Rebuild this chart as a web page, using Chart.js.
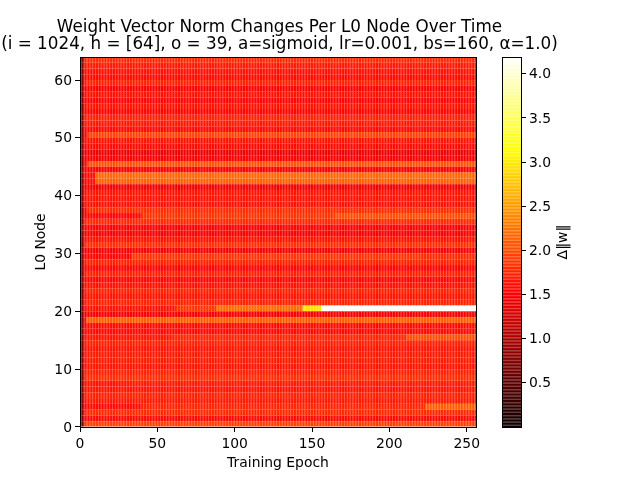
<!DOCTYPE html>
<html>
<head>
<meta charset="utf-8">
<style>
  html, body { margin: 0; padding: 0; background: #fff; }
  #wrap { position: relative; width: 640px; height: 480px; overflow: hidden; }
  canvas { position: absolute; top: 0; }
</style>
<script src="https://cdn.jsdelivr.net/npm/chart.js@4"></script>
</head>
<body>
<div id="wrap">
  <canvas id="heat" width="640" height="480" style="left:0"></canvas>
  <canvas id="bar" width="150" height="480" style="left:490px"></canvas>
</div>
<script>
const titleLines = ['Weight Vector Norm Changes Per L0 Node Over Time',
  '(i = 1024, h = [64], o = 39, a=sigmoid, lr=0.001, bs=160, α=1.0)'];
const epochCount = 256;
const vMin = 0.0;
const vMax = 4.19;

// first three epochs are the same dark column on every row
const firstEpochs = [0.1, 0.8, 1.3];

// value of each node row (row 0 first)
const rowValues = [
  1.92, 1.58, 1.78, 1.58, 1.68, 1.73, 1.65, 1.63,
  1.82, 1.73, 1.65, 1.68, 1.68, 1.65, 1.73, 1.65,
  1.58, 1.58, 2.10, 1.48, 1.63, 1.73, 1.65, 1.73,
  1.63, 1.55, 1.73, 1.55, 1.73, 1.55, 1.48, 1.82,
  1.63, 1.48, 1.50, 1.78, 1.55, 1.80, 1.63, 1.63,
  1.65, 1.45, 2.12, 2.18, 1.50, 2.05, 1.48, 1.42,
  1.58, 1.63, 1.95, 1.58, 1.68, 1.73, 1.55, 1.65,
  1.55, 1.63, 1.50, 1.73, 1.58, 1.63, 1.68, 1.78
];

// [row, from epoch, new value] where a row shifts over time
const rowSteps = [
  [3, 40, 1.75], [3, 223, 2.12],
  [7, 30, 1.68],
  [15, 60, 1.75], [15, 211, 2.02],
  [20, 62, 1.85], [20, 88, 2.18], [20, 144, 2.95], [20, 156, 4.18],
  [29, 33, 1.85], [29, 220, 1.78],
  [36, 40, 1.84], [36, 165, 2.02],
  [50, 220, 1.92]
];

// [row, until epoch, value] for rows that start lower
const rowStarts = [
  [18, 4, 1.55], [37, 5, 1.58], [42, 10, 1.58], [43, 10, 1.58], [45, 5, 1.58], [50, 5, 1.58]
];

const xTicks = [0, 50, 100, 150, 200, 250];
const yTicks = [0, 10, 20, 30, 40, 50, 60];
const barTicks = [0.5, 1, 1.5, 2, 2.5, 3, 3.5, 4];

const font = 'DejaVu Sans';

// matplotlib "hot"
function hot(v) {
  const t = Math.min(1, Math.max(0, (v - vMin) / (vMax - vMin)));
  const r = Math.min(1, 0.0416 + t * (1 - 0.0416) / 0.365079);
  const g = Math.min(1, Math.max(0, (t - 0.365079) / (0.746032 - 0.365079)));
  const b = Math.min(1, Math.max(0, (t - 0.746032) / (1 - 0.746032)));
  return `rgb(${Math.round(r * 255)},${Math.round(g * 255)},${Math.round(b * 255)})`;
}

function cellValue(row, epoch) {
  if (epoch < firstEpochs.length) return firstEpochs[epoch];
  for (const s of rowStarts) if (s[0] === row && epoch < s[1]) return s[2];
  let v = rowValues[row];
  for (const s of rowSteps) if (s[0] === row && epoch >= s[1]) v = s[2];
  return v;
}

const datasets = rowValues.map((_, row) => {
  const data = [], colors = [];
  for (let e = 0; e < epochCount; e++) {
    data.push({ x: e + 0.5, y: [row, row + 1] });
    colors.push(hot(cellValue(row, e)));
  }
  return { label: 'L0 node ' + row, data, backgroundColor: colors };
});

const frame = {
  id: 'frame',
  afterDatasetsDraw(chart) {
    const a = chart.chartArea, c = chart.ctx;
    c.save();
    c.strokeStyle = '#000';
    c.lineWidth = 1;
    c.strokeRect(Math.round(a.left) + 0.5, Math.round(a.top) + 0.5,
      Math.round(a.right - a.left), Math.round(a.bottom - a.top));
    c.restore();
  }
};

const tickFont = { family: font, size: 13.9 };

new Chart(document.getElementById('heat'), {
  type: 'bar',
  data: { datasets },
  plugins: [frame],
  options: {
    responsive: false,
    animation: false,
    devicePixelRatio: 1,
    events: [],
    grouped: false,
    barPercentage: 1,
    categoryPercentage: 1,
    inflateAmount: 0,
    borderWidth: 0,
    layout: { padding: { left: 0, top: 0, right: 81, bottom: 0 } },
    plugins: {
      legend: { display: false },
      tooltip: { enabled: false },
      title: {
        display: true,
        text: titleLines,
        color: '#000',
        font: { family: font, size: 16.8, weight: 'normal', lineHeight: 1.01 },
        padding: { top: 19, bottom: 4 }
      }
    },
    scales: {
      x: {
        type: 'linear', min: 0, max: 256, offset: false,
        afterBuildTicks: s => { s.ticks = xTicks.map(value => ({ value })); },
        afterFit: s => { s.height = 53; },
        grid: { offset: false, drawOnChartArea: false, tickLength: 5, tickColor: '#000', lineWidth: 1 },
        border: { display: false },
        ticks: { color: '#000', font: tickFont, padding: 4, maxRotation: 0, autoSkip: false },
        title: { display: true, text: 'Training Epoch', color: '#000', font: tickFont, padding: { top: 0, bottom: 8 } }
      },
      y: {
        type: 'linear', min: 0, max: 64, offset: false,
        afterBuildTicks: s => { s.ticks = yTicks.map(value => ({ value })); },
        afterFit: s => { s.width = 80; },
        grid: { offset: false, drawOnChartArea: false, tickLength: 5, tickColor: '#000', lineWidth: 1 },
        border: { display: false },
        ticks: { color: '#000', font: tickFont, padding: 3, autoSkip: false, labelOffset: 1 },
        title: { display: true, text: 'L0 Node', color: '#000', font: tickFont, padding: { top: 33, bottom: 0 } }
      },
      // empty axis, holds the room of the colorbar
      side: {
        type: 'linear', position: 'right',
        afterFit: s => { s.width = 83; },
        grid: { display: false },
        border: { display: false },
        ticks: { display: false }
      }
    }
  }
});

// colorbar
const barLevels = [], barColors = [];
for (let i = 0; i < 256; i++) {
  const v = vMin + (i + 0.5) * (vMax - vMin) / 256;
  barLevels.push({ x: [0, 1], y: v });
  barColors.push(hot(v));
}

const barLabel = {
  id: 'barLabel',
  afterDraw(chart) {
    const c = chart.ctx;
    c.save();
    c.translate(73, 242);
    c.rotate(-Math.PI / 2);
    c.fillStyle = '#000';
    c.font = '13.9px "' + font + '"';
    c.textAlign = 'center';
    c.textBaseline = 'middle';
    c.fillText('Δ‖w‖', 0, 0);
    c.restore();
  }
};

new Chart(document.getElementById('bar'), {
  type: 'bar',
  data: { datasets: [{ label: 'colorbar', data: barLevels, backgroundColor: barColors }] },
  plugins: [frame, barLabel],
  options: {
    indexAxis: 'y',
    responsive: false,
    animation: false,
    devicePixelRatio: 1,
    events: [],
    barPercentage: 1,
    categoryPercentage: 1,
    inflateAmount: 0,
    borderWidth: 0,
    layout: { padding: { left: 12, top: 57, right: 0, bottom: 53 } },
    plugins: { legend: { display: false }, tooltip: { enabled: false }, title: { display: false } },
    scales: {
      x: { type: 'linear', min: 0, max: 1, display: false, offset: false },
      y: {
        type: 'linear', position: 'right', min: vMin, max: vMax, offset: false,
        afterBuildTicks: s => { s.ticks = barTicks.map(value => ({ value })); },
        afterFit: s => { s.width = 119; },
        grid: { offset: false, drawOnChartArea: false, tickLength: 5, tickColor: '#000', lineWidth: 1 },
        border: { display: false },
        ticks: { color: '#000', font: tickFont, padding: 3, autoSkip: false, labelOffset: 1, callback: v => v.toFixed(1) }
      }
    }
  }
});
</script>
</body>
</html>
